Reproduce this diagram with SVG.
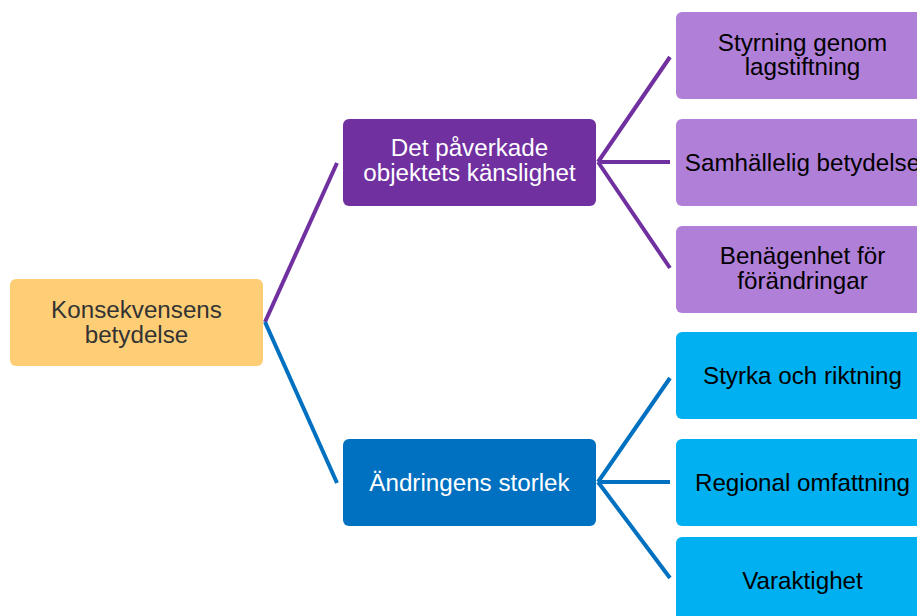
<svg xmlns="http://www.w3.org/2000/svg" width="917" height="616" viewBox="0 0 917 616">
<style>
text{font-family:"Liberation Sans",Arial,sans-serif;font-size:24.2px;text-anchor:middle}
.root rect{fill:#FECE76}
.root text{fill:#333333}
.pm rect{fill:#7030A0}
.bm rect{fill:#0070C0}
.pm text,.bm text{fill:#FFFFFF}
.pl rect{fill:#B07FD8}
.bl rect{fill:#00B0F0}
.pl text,.bl text{fill:#000000}
.cp{stroke:#7030A0;stroke-width:4;fill:none}
.cb{stroke:#0070C0;stroke-width:4;fill:none}
</style>
<g id="connectors">
<path class="cp" d="M265 322 L337 163"/>
<path class="cb" d="M265 322 L337 483"/>
<path class="cp" d="M598 162 L670 57 M598 162 L670 162 M598 162 L670 268"/>
<path class="cb" d="M598 482 L670 378 M598 482 L670 482 M598 482 L670 578"/>
</g>
<g id="n-root" class="root"><rect x="10" y="279" width="253" height="87" rx="6"/><text x="136.5" y="318">Konsekvensens</text><text x="136.5" y="342.5">betydelse</text></g>
<g id="n-sens" class="pm"><rect x="343" y="119" width="253" height="87" rx="6"/><text x="469.5" y="156">Det påverkade</text><text x="469.5" y="181">objektets känslighet</text></g>
<g id="n-size" class="bm"><rect x="343" y="439" width="253" height="87" rx="6"/><text x="469.5" y="490.5">Ändringens storlek</text></g>
<g id="n-p1" class="pl"><rect x="676" y="12" width="253" height="87" rx="6"/><text x="802.5" y="50.5">Styrning genom</text><text x="802.5" y="75">lagstiftning</text></g>
<g id="n-p2" class="pl"><rect x="676" y="119" width="253" height="87" rx="6"/><text x="802.5" y="170.5">Samhällelig betydelse</text></g>
<g id="n-p3" class="pl"><rect x="676" y="226" width="253" height="87" rx="6"/><text x="802.5" y="264">Benägenhet för</text><text x="802.5" y="288.5">förändringar</text></g>
<g id="n-b1" class="bl"><rect x="676" y="332" width="253" height="87" rx="6"/><text x="802.5" y="384">Styrka och riktning</text></g>
<g id="n-b2" class="bl"><rect x="676" y="439" width="253" height="87" rx="6"/><text x="802.5" y="490.5">Regional omfattning</text></g>
<g id="n-b3" class="bl"><rect x="676" y="537" width="253" height="87" rx="6"/><text x="802.5" y="589">Varaktighet</text></g>
</svg>
